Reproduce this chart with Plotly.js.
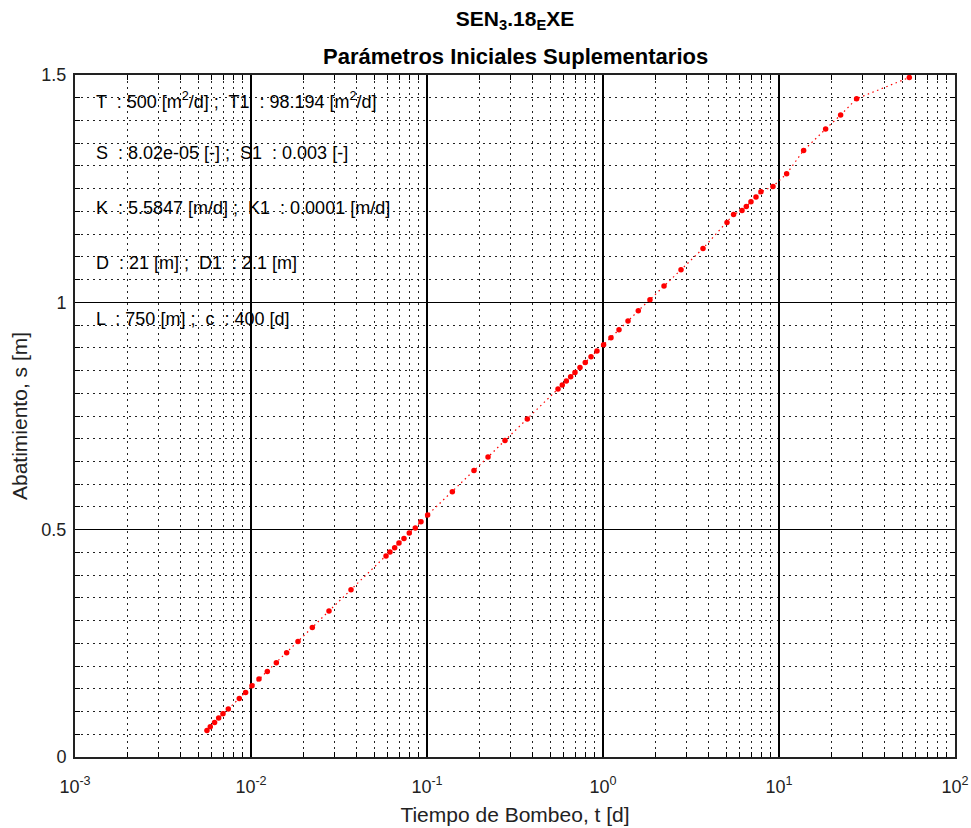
<!DOCTYPE html>
<html>
<head>
<meta charset="utf-8">
<script src="https://cdn.plot.ly/plotly-3.0.1.min.js"></script>
<style>html,body{margin:0;padding:0;background:#fff;}#chart{width:971px;height:828px;}</style>
</head>
<body>
<div id="chart"></div>
<script>
// Pumping time t [d]
const tiempo = [0.00562,0.00587,0.00621,0.00655,0.00693,0.00743,0.00858,0.00932,0.01013,0.0111,
  0.01238,0.01393,0.01594,0.01849,0.0223,0.02774,0.037,0.0585,0.0616,0.0655,
  0.0693,0.074,0.0793,0.0858,0.0924,0.1008,0.1393,0.1849,0.2222,0.2774,
  0.3714,0.555,0.587,0.619,0.655,0.693,0.740,0.793,0.855,0.924,
  1.008,1.11,1.233,1.387,1.587,1.849,2.222,2.775,3.70,5.064,
  5.52,6.163,6.52,6.93,7.40,7.90,9.24,11.05,13.80,18.40,
  22.39,27.6,55.0];
// Drawdown s [m]
const abatimiento = [0.0585,0.0666,0.0761,0.0858,0.0952,0.1056,0.1289,0.1421,0.1568,0.1715,
  0.1883,0.2074,0.2294,0.2542,0.285,0.3211,0.368,0.442,0.4508,0.4603,
  0.4706,0.4808,0.4926,0.5036,0.5175,0.5322,0.5835,0.6303,0.6598,0.6963,
  0.7433,0.8093,0.8181,0.8269,0.8364,0.8458,0.8568,0.8678,0.8804,0.8929,
  0.9068,0.9222,0.9397,0.9589,0.9815,1.0057,1.0358,1.0717,1.1185,1.1757,
  1.1933,1.2021,1.2109,1.2212,1.2316,1.2432,1.2549,1.2828,1.3341,1.3811,
  1.4119,1.4478,1.4946];

const xTickVals = [0.001,0.01,0.1,1,10,100];
const xTickText = ['10<sup>-3</sup>','10<sup>-2</sup>','10<sup>-1</sup>','10<sup>0</sup>','10<sup>1</sup>','10<sup>2</sup>'];
const yTickVals = [0,0.5,1,1.5];
const yTickText = ['0','0.5','1','1.5'];

const paramLines = [
  'T  : 500 [m<sup>2</sup>/d] ;  T1  : 98.194 [m<sup>2</sup>/d]',
  'S  : 8.02e-05 [-] ;  S1  : 0.003 [-]',
  'K  : 5.5847 [m/d] ;  K1  : 0.0001 [m/d]',
  'D  : 21 [m] ;  D1  : 2.1 [m]',
  'L  : 750 [m] ;  c  : 400 [d]'
];
const paramY = [1.445,1.328,1.207,1.087,0.964];

const FONT = 'Liberation Sans, Arial, Helvetica, sans-serif';

const trace = {
  x: tiempo, y: abatimiento,
  type: 'scatter', mode: 'lines+markers',
  line: {color: '#ff0000', dash: '1.5px,3.5px', width: 1.2},
  marker: {color: '#ff0000', size: 5.5},
  showlegend: false, hoverinfo: 'x+y'
};

const annotations = paramLines.map((txt, i) => ({
  text: txt, xref: 'paper', yref: 'y', x: 0.022, y: paramY[i],
  xanchor: 'left', yanchor: 'middle', showarrow: false,
  font: {family: FONT, size: 18, color: '#000'}
}));
annotations.push({
  text: '<b>Parámetros Iniciales Suplementarios</b>',
  xref: 'paper', yref: 'paper', x: 0.5, y: 1.027,
  xanchor: 'center', yanchor: 'middle', showarrow: false,
  font: {family: FONT, size: 22, color: '#000'}
});

const minorGrid = {ticks: 'inside', ticklen: 5, tickcolor: '#000',
  showgrid: true, griddash: '1.5px,4.5px', gridcolor: '#222', gridwidth: 1};

const layout = {
  width: 971, height: 828,
  paper_bgcolor: '#ffffff', plot_bgcolor: '#ffffff',
  margin: {l: 75, r: 16, t: 75, b: 71},
  font: {family: FONT, color: '#000'},
  title: {
    text: '<b>SEN<sub>3</sub>.18<sub>E</sub>XE</b>',
    x: 0.5, xref: 'paper', xanchor: 'center',
    y: 0.978, yref: 'container', yanchor: 'middle',
    font: {family: FONT, size: 21, color: '#000'}
  },
  xaxis: {
    type: 'log', range: [-3, 2],
    tickmode: 'array', tickvals: xTickVals, ticktext: xTickText,
    ticks: 'inside', ticklen: 8, tickwidth: 1, tickcolor: '#000',
    ticklabelstandoff: 12,
    showgrid: true, gridcolor: '#000', gridwidth: 1.3,
    showline: true, linecolor: '#222', linewidth: 2, mirror: 'ticks',
    zeroline: false,
    tickfont: {family: FONT, size: 18, color: '#222'},
    minor: Object.assign({dtick: 'D1'}, minorGrid),
    title: {text: 'Tiempo de Bombeo, t [d]', font: {family: FONT, size: 21, color: '#222'}, standoff: 12}
  },
  yaxis: {
    range: [0, 1.5],
    tickmode: 'array', tickvals: yTickVals, ticktext: yTickText,
    ticks: 'inside', ticklen: 8, tickwidth: 1, tickcolor: '#000',
    ticklabelstandoff: 3,
    showgrid: true, gridcolor: '#000', gridwidth: 1.3,
    showline: true, linecolor: '#222', linewidth: 2, mirror: 'ticks',
    zeroline: false,
    tickfont: {family: FONT, size: 18, color: '#222'},
    minor: Object.assign({dtick: 0.05}, minorGrid),
    title: {text: 'Abatimiento, s [m]', font: {family: FONT, size: 21, color: '#222'}, standoff: 8}
  },
  annotations: annotations
};

Plotly.newPlot('chart', [trace], layout, {displayModeBar: false, staticPlot: true});
</script>
</body>
</html>
